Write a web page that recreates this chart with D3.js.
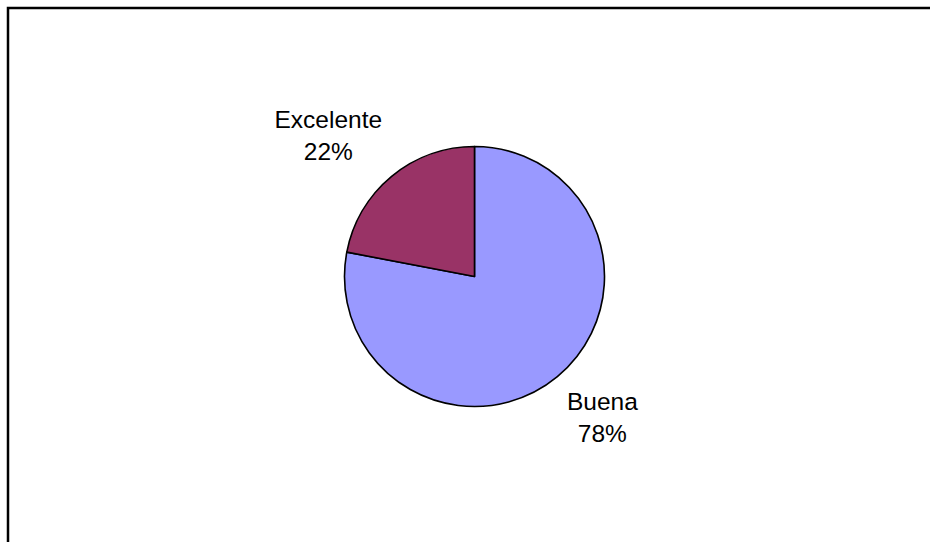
<!DOCTYPE html>
<html>
<head>
<meta charset="utf-8">
<script src="https://cdn.jsdelivr.net/npm/d3@7"></script>
<style>
  html, body { margin: 0; padding: 0; background: #fff; }
  svg { display: block; }
</style>
</head>
<body>
<svg id="chart" width="930" height="542"></svg>
<script>
// Rating breakdown
const categories = ["Buena", "Excelente"];
const values = [78, 22];
const colors = ["#9999FF", "#993366"];

const width = 930, height = 542;
const svg = d3.select("#chart");

// Chart area frame (left and top edges visible)
svg.append("path")
  .attr("d", `M8,${height + 5} L8,8 L${width + 5},8`)
  .attr("fill", "none")
  .attr("stroke", "#000")
  .attr("stroke-width", 2.5);

const cx = 474.5, cy = 276.5, r = 130;
const g = svg.append("g").attr("transform", `translate(${cx},${cy})`);

const data = categories.map((c, i) => ({ name: c, value: values[i], color: colors[i] }));
const pie = d3.pie().sort(null).value(d => d.value);
const arc = d3.arc().innerRadius(0).outerRadius(r);
const arcs = pie(data);

g.selectAll("path.slice")
  .data(arcs)
  .join("path")
  .attr("class", "slice")
  .attr("d", arc)
  .attr("fill", d => d.data.color)
  .attr("stroke", "#000")
  .attr("stroke-width", 1.6)
  .attr("stroke-linejoin", "round");

const total = d3.sum(values);
const labelGap = 15;

arcs.forEach(a => {
  const mid = (a.startAngle + a.endAngle) / 2;
  const sx = Math.sin(mid), sy = -Math.cos(mid);
  const ax = (r + labelGap) * sx, ay = (r + labelGap) * sy;

  const t = g.append("text")
    .attr("font-family", "'Liberation Sans', Arial, sans-serif")
    .attr("font-size", 24.5)
    .attr("fill", "#000")
    .attr("text-anchor", "middle");
  t.append("tspan").attr("x", 0).attr("y", 0).text(a.data.name);
  t.append("tspan").attr("x", 0).attr("dy", 32)
    .text(Math.round(a.data.value / total * 100) + "%");

  // Place the label box so its corner nearest the pie sits on the anchor point
  const bb = t.node().getBBox();
  const bx = sx >= 0 ? bb.x : bb.x + bb.width;
  const by = sy >= 0 ? bb.y : bb.y + bb.height;
  t.attr("transform", `translate(${ax - bx},${ay - by})`);
});
</script>
</body>
</html>
